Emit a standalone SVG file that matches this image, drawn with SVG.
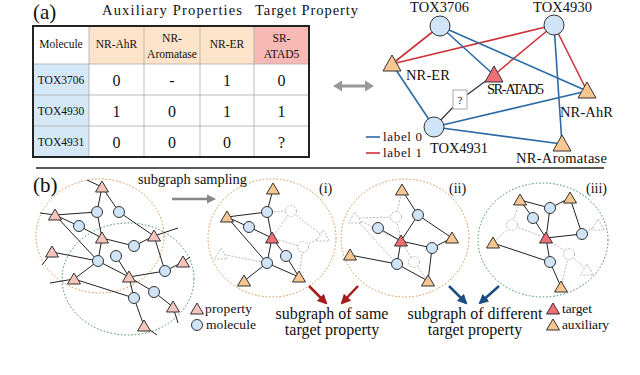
<svg xmlns="http://www.w3.org/2000/svg" xmlns:xlink="http://www.w3.org/1999/xlink" width="640" height="375" viewBox="0 0 640 375">
<defs>
<style>
text{font-family:"Liberation Serif","Times New Roman",serif;fill:#111}
.e{stroke:#222;stroke-width:1;fill:none}
.eg{stroke:#b8b8b8;stroke-width:1;stroke-dasharray:2,1.5;fill:none}
.mol{fill:#cfe4f7;stroke:#333;stroke-width:1}
.molg{fill:#fff;stroke:#b8b8b8;stroke-width:1;stroke-dasharray:2,1.5}
.aux{fill:#f8c690;stroke:#333;stroke-width:1}
.tgt{fill:#ef6f74;stroke:#333;stroke-width:1}
.prop{fill:#f4c4bd;stroke:#333;stroke-width:1}
.propg{fill:#fff;stroke:#b8b8b8;stroke-width:1;stroke-dasharray:2,1.5}
.b0{stroke:#2b6aa6;stroke-width:1.6}
.r1{stroke:#cc3338;stroke-width:1.6}
.tl{stroke:#aaa;stroke-width:0.8}
.hd{font-size:11.5px}
.val{font-size:16px}
.lab{font-size:14.5px}
.sm{font-size:13.5px}
</style>
<path id="triL" d="M0,-9 L9,7 L-9,7Z"/>
<path id="tri" d="M0,-6 L6.5,5 L-6.5,5Z"/>
<marker id="arR" viewBox="0 0 10 10" refX="8" refY="5" markerWidth="4" markerHeight="4" orient="auto"><path d="M0,0 L10,5 L0,10Z" fill="#a51c1c"/></marker>
<marker id="arB" viewBox="0 0 10 10" refX="8" refY="5" markerWidth="4" markerHeight="4" orient="auto"><path d="M0,0 L10,5 L0,10Z" fill="#1d4c80"/></marker>
</defs>
<rect width="640" height="375" fill="#fff"/>

<!-- Part (a) titles -->
<text x="33" y="19" font-size="21">(a)</text>
<text x="102" y="15" font-size="14.5" textLength="140">Auxiliary Properties</text>
<text x="255" y="15" font-size="14.5" textLength="103">Target Property</text>

<!-- Table -->
<g id="table">
<rect x="89" y="26" width="165" height="38" fill="#fde3c9"/>
<rect x="254" y="26" width="55" height="38" fill="#f7b9b3"/>
<rect x="33" y="64" width="56" height="93" fill="#d4e8f8"/>
<g class="tl">
<line x1="89" y1="26" x2="89" y2="157"/><line x1="144" y1="26" x2="144" y2="157"/>
<line x1="200" y1="26" x2="200" y2="157"/><line x1="254" y1="26" x2="254" y2="157"/>
<line x1="33" y1="64" x2="309" y2="64"/><line x1="33" y1="95" x2="309" y2="95"/>
<line x1="33" y1="126" x2="309" y2="126"/>
</g>
<rect x="33" y="26" width="276" height="131" fill="none" stroke="#222" stroke-width="2"/>
<g text-anchor="middle">
<text x="61" y="48" class="hd">Molecule</text>
<text x="116.5" y="48" class="hd">NR-AhR</text>
<text x="172" y="42" class="hd">NR-</text><text x="172" y="57.5" class="hd">Aromatase</text>
<text x="227" y="48" class="hd">NR-ER</text>
<text x="281.5" y="42" class="hd">SR-</text><text x="281.5" y="57.5" class="hd">ATAD5</text>
<text x="61" y="84" class="hd">TOX3706</text>
<text x="61" y="115" class="hd">TOX4930</text>
<text x="61" y="146" class="hd">TOX4931</text>
<text x="116.5" y="86" class="val">0</text><text x="172" y="86" class="val">-</text><text x="227" y="86" class="val">1</text><text x="281.5" y="86" class="val">0</text>
<text x="116.5" y="117" class="val">1</text><text x="172" y="117" class="val">0</text><text x="227" y="117" class="val">1</text><text x="281.5" y="117" class="val">1</text>
<text x="116.5" y="148" class="val">0</text><text x="172" y="148" class="val">0</text><text x="227" y="148" class="val">0</text><text x="281.5" y="148" class="val">?</text>
</g>
</g>

<!-- double arrow -->
<g id="double-arrow" fill="#999">
<line x1="340" y1="86" x2="366" y2="86" stroke="#999" stroke-width="3"/>
<polygon points="333,86 342,80.5 342,91.5"/>
<polygon points="374,86 365,80.5 365,91.5"/>
</g>

<!-- graph (a) connectors -->
<g id="connectors-a">
<line class="r1" x1="440" y1="26" x2="392" y2="64"/>
<line class="r1" x1="554" y1="25" x2="392" y2="64"/>
<line class="r1" x1="554" y1="25" x2="494" y2="75"/>
<line class="r1" x1="554" y1="25" x2="587" y2="91"/>
<line class="b0" x1="440" y1="26" x2="494" y2="75"/>
<line class="b0" x1="440" y1="26" x2="587" y2="91"/>
<line class="b0" x1="554" y1="25" x2="562" y2="144"/>
<line class="b0" x1="392" y1="64" x2="434" y2="127"/>
<line class="b0" x1="434" y1="127" x2="587" y2="91"/>
<line class="b0" x1="434" y1="127" x2="562" y2="144"/>
<polyline points="434,127 460,100 487,80" fill="none" stroke="#333" stroke-width="1.2"/>
</g>
<g id="q-box"><rect x="453" y="90" width="14" height="19" fill="#fff" stroke="#aaa" stroke-width="1"/><text x="460" y="104" text-anchor="middle" font-size="11" fill="#666">?</text></g>
<g id="TOX3706"><circle cx="440" cy="26" r="10" class="mol"/><text x="410" y="12" class="lab" textLength="59">TOX3706</text></g>
<g id="TOX4930"><circle cx="554" cy="25" r="10" class="mol"/><text x="533" y="12" class="lab" textLength="59">TOX4930</text></g>
<g id="TOX4931"><circle cx="434" cy="127" r="10" class="mol"/><text x="430" y="153" class="lab" textLength="58">TOX4931</text></g>
<g id="NR-ER"><use xlink:href="#triL" x="392" y="64" class="aux"/><text x="406" y="80" class="lab" textLength="44">NR-ER</text></g>
<g id="SR-ATAD5"><use xlink:href="#triL" x="494" y="75" class="tgt"/><text x="487" y="94" class="lab" textLength="57">SR-ATAD5</text></g>
<g id="NR-AhR"><use xlink:href="#triL" x="587" y="91" class="aux"/><text x="560" y="117" class="lab" textLength="53">NR-AhR</text></g>
<g id="NR-Aromatase"><use xlink:href="#triL" x="562" y="144" class="aux"/><text x="516" y="163" class="lab" textLength="91">NR-Aromatase</text></g>
<g id="legend-a">
<line class="b0" x1="366" y1="137" x2="380" y2="137" stroke-width="2"/>
<text x="383" y="141" font-size="13" textLength="39">label 0</text>
<line class="r1" x1="366" y1="153" x2="380" y2="153" stroke-width="2"/>
<text x="383" y="157" font-size="13" textLength="39">label 1</text>
</g>

<line x1="36" y1="168" x2="604" y2="168" stroke="#222" stroke-width="1.3"/>

<!-- Part (b) -->
<text x="33" y="192" font-size="21">(b)</text>
<text x="138" y="184" font-size="14.4" textLength="109">subgraph sampling</text>
<g id="sampling-arrow" fill="#888"><line x1="172" y1="199" x2="208" y2="199" stroke="#888" stroke-width="2.5"/><polygon points="216,199 207,194.5 207,203.5"/></g>

<!-- full graph -->
<ellipse cx="100" cy="236" rx="64" ry="57" fill="none" stroke="#d88a3a" stroke-width="1" stroke-dasharray="1.5,2"/>
<ellipse cx="128" cy="279" rx="66" ry="56" fill="none" stroke="#3a8a5a" stroke-width="1" stroke-dasharray="1.5,2"/>
<g id="connectors-full" class="e">
<line x1="87" y1="180" x2="102" y2="187"/>
<line x1="102" y1="187" x2="97" y2="212"/>
<line x1="102" y1="187" x2="119" y2="212"/>
<line x1="40" y1="213" x2="55" y2="215"/>
<line x1="55" y1="215" x2="97" y2="212"/>
<line x1="55" y1="215" x2="79" y2="226"/>
<line x1="79" y1="226" x2="102" y2="238"/>
<line x1="55" y1="215" x2="98" y2="261"/>
<line x1="97" y1="212" x2="102" y2="238"/>
<line x1="119" y1="212" x2="154" y2="236"/>
<line x1="154" y1="236" x2="178" y2="228"/>
<line x1="102" y1="238" x2="134" y2="246"/>
<line x1="134" y1="246" x2="154" y2="236"/>
<line x1="102" y1="238" x2="98" y2="261"/>
<line x1="116" y1="256" x2="129" y2="277"/>
<line x1="98" y1="261" x2="129" y2="277"/>
<line x1="52" y1="252" x2="98" y2="261"/>
<line x1="52" y1="252" x2="42" y2="265"/>
<line x1="74" y1="279" x2="98" y2="261"/>
<line x1="50" y1="283" x2="74" y2="279"/>
<line x1="74" y1="279" x2="134" y2="298"/>
<line x1="129" y1="277" x2="165" y2="271"/>
<line x1="165" y1="271" x2="183" y2="262"/>
<line x1="183" y1="262" x2="190" y2="257"/>
<line x1="154" y1="236" x2="165" y2="271"/>
<line x1="129" y1="277" x2="154" y2="292"/>
<line x1="154" y1="292" x2="173" y2="307"/>
<line x1="173" y1="307" x2="178" y2="323"/>
<line x1="129" y1="277" x2="134" y2="298"/>
<line x1="134" y1="298" x2="144" y2="326"/>
<line x1="144" y1="326" x2="157" y2="335"/>
</g>
<g id="full-nodes">
<g id="fT1"><use xlink:href="#tri" x="102" y="187" class="prop"/></g>
<g id="fT2"><use xlink:href="#tri" x="55" y="215" class="prop"/></g>
<g id="fT3"><use xlink:href="#tri" x="102" y="238" class="prop"/></g>
<g id="fT4"><use xlink:href="#tri" x="154" y="236" class="prop"/></g>
<g id="fT5"><use xlink:href="#tri" x="52" y="252" class="prop"/></g>
<g id="fT6"><use xlink:href="#tri" x="183" y="262" class="prop"/></g>
<g id="fT7"><use xlink:href="#tri" x="74" y="279" class="prop"/></g>
<g id="fT8"><use xlink:href="#tri" x="129" y="277" class="prop"/></g>
<g id="fT9"><use xlink:href="#tri" x="173" y="307" class="prop"/></g>
<g id="fT10"><use xlink:href="#tri" x="144" y="326" class="prop"/></g>
<g id="fC1"><circle cx="97" cy="212" r="5.5" class="mol"/></g>
<g id="fC2"><circle cx="119" cy="212" r="5.5" class="mol"/></g>
<g id="fC3"><circle cx="79" cy="226" r="5.5" class="mol"/></g>
<g id="fC4"><circle cx="134" cy="246" r="5.5" class="mol"/></g>
<g id="fC5"><circle cx="116" cy="256" r="5.5" class="mol"/></g>
<g id="fC6"><circle cx="98" cy="261" r="5.5" class="mol"/></g>
<g id="fC7"><circle cx="165" cy="271" r="5.5" class="mol"/></g>
<g id="fC8"><circle cx="154" cy="292" r="5.5" class="mol"/></g>
<g id="fC9"><circle cx="134" cy="298" r="5.5" class="mol"/></g>
</g>
<g id="legend-b1">
<use xlink:href="#tri" x="197" y="309" class="prop"/><text x="205" y="313" class="sm" textLength="47">property</text>
<circle cx="197" cy="325" r="5.5" class="mol"/><text x="206" y="329" class="sm" textLength="50">molecule</text>
</g>

<!-- subgraph (i) -->
<ellipse cx="272" cy="238" rx="64" ry="59" fill="none" stroke="#d88a3a" stroke-width="1" stroke-dasharray="1.5,2"/>
<text x="319" y="193" font-size="14">(i)</text>
<g id="connectors-i">
<g class="eg">
<line x1="267" y1="212" x2="291" y2="211"/>
<line x1="291" y1="211" x2="272" y2="238"/>
<line x1="291" y1="211" x2="323" y2="236"/>
<line x1="272" y1="238" x2="303" y2="247"/>
<line x1="303" y1="247" x2="323" y2="236"/>
<line x1="303" y1="247" x2="299" y2="277"/>
<line x1="221" y1="254" x2="267" y2="263"/>
</g>
<g class="e">
<line x1="273" y1="189" x2="267" y2="212"/>
<line x1="227" y1="217" x2="267" y2="212"/>
<line x1="227" y1="217" x2="249" y2="227"/>
<line x1="249" y1="227" x2="272" y2="238"/>
<line x1="227" y1="217" x2="267" y2="263"/>
<line x1="267" y1="212" x2="272" y2="238"/>
<line x1="272" y1="238" x2="267" y2="263"/>
<line x1="272" y1="238" x2="286" y2="256"/>
<line x1="286" y1="256" x2="299" y2="277"/>
<line x1="267" y1="263" x2="244" y2="281"/>
<line x1="267" y1="263" x2="299" y2="277"/>
</g>
</g>
<g id="nodes-i">
<g id="i-g1"><circle cx="291" cy="211" r="5.5" class="molg"/></g>
<g id="i-g2"><use xlink:href="#tri" x="323" y="236" class="propg"/></g>
<g id="i-g3"><circle cx="303" cy="247" r="5.5" class="molg"/></g>
<g id="i-g4"><use xlink:href="#tri" x="221" y="254" class="propg"/></g>
<g id="i-A1"><use xlink:href="#tri" x="273" y="189" class="aux"/></g>
<g id="i-A2"><use xlink:href="#tri" x="227" y="217" class="aux"/></g>
<g id="i-A3"><use xlink:href="#tri" x="244" y="281" class="aux"/></g>
<g id="i-A4"><use xlink:href="#tri" x="299" y="277" class="aux"/></g>
<g id="i-R"><use xlink:href="#tri" x="272" y="238" class="tgt"/></g>
<g id="i-B1"><circle cx="267" cy="212" r="5.5" class="mol"/></g>
<g id="i-B2"><circle cx="249" cy="227" r="5.5" class="mol"/></g>
<g id="i-B3"><circle cx="286" cy="256" r="5.5" class="mol"/></g>
<g id="i-B4"><circle cx="267" cy="263" r="5.5" class="mol"/></g>
</g>

<!-- subgraph (ii) -->
<ellipse cx="405" cy="238" rx="64" ry="59" fill="none" stroke="#d88a3a" stroke-width="1" stroke-dasharray="1.5,2"/>
<text x="449" y="193" font-size="14">(ii)</text>
<g id="connectors-ii">
<g class="eg">
<line x1="402" y1="190" x2="396" y2="217"/>
<line x1="396" y1="217" x2="355" y2="218"/>
<line x1="396" y1="217" x2="401" y2="241"/>
<line x1="355" y1="218" x2="401" y2="241"/>
<line x1="355" y1="218" x2="397" y2="264"/>
<line x1="401" y1="241" x2="414" y2="262"/>
<line x1="414" y1="262" x2="428" y2="281"/>
</g>
<g class="e">
<line x1="402" y1="190" x2="418" y2="215"/>
<line x1="418" y1="215" x2="401" y2="241"/>
<line x1="418" y1="215" x2="452" y2="238"/>
<line x1="378" y1="228" x2="401" y2="241"/>
<line x1="401" y1="241" x2="432" y2="248"/>
<line x1="432" y1="248" x2="452" y2="238"/>
<line x1="432" y1="248" x2="428" y2="281"/>
<line x1="401" y1="241" x2="397" y2="264"/>
<line x1="350" y1="255" x2="397" y2="264"/>
<line x1="397" y1="264" x2="428" y2="281"/>
</g>
</g>
<g id="nodes-ii">
<g id="ii-g1"><circle cx="396" cy="217" r="5.5" class="molg"/></g>
<g id="ii-g2"><use xlink:href="#tri" x="355" y="218" class="propg"/></g>
<g id="ii-g3"><circle cx="414" cy="262" r="5.5" class="molg"/></g>
<g id="ii-A1"><use xlink:href="#tri" x="402" y="190" class="aux"/></g>
<g id="ii-A2"><use xlink:href="#tri" x="452" y="238" class="aux"/></g>
<g id="ii-A3"><use xlink:href="#tri" x="350" y="255" class="aux"/></g>
<g id="ii-A4"><use xlink:href="#tri" x="428" y="281" class="aux"/></g>
<g id="ii-R"><use xlink:href="#tri" x="401" y="241" class="tgt"/></g>
<g id="ii-B1"><circle cx="418" cy="215" r="5.5" class="mol"/></g>
<g id="ii-B2"><circle cx="378" cy="228" r="5.5" class="mol"/></g>
<g id="ii-B3"><circle cx="432" cy="248" r="5.5" class="mol"/></g>
<g id="ii-B4"><circle cx="397" cy="264" r="5.5" class="mol"/></g>
</g>

<!-- subgraph (iii) -->
<ellipse cx="543" cy="240" rx="65" ry="57" fill="none" stroke="#3a8a5a" stroke-width="1" stroke-dasharray="1.5,2"/>
<text x="586" y="193" font-size="14">(iii)</text>
<g id="connectors-iii">
<g class="eg">
<line x1="520" y1="200" x2="512" y2="225"/>
<line x1="512" y1="225" x2="546" y2="238"/>
<line x1="512" y1="225" x2="493" y2="243"/>
<line x1="582" y1="234" x2="598" y2="225"/>
<line x1="546" y1="238" x2="569" y2="254"/>
<line x1="569" y1="254" x2="587" y2="270"/>
<line x1="569" y1="254" x2="561" y2="287"/>
</g>
<g class="e">
<line x1="520" y1="200" x2="550" y2="208"/>
<line x1="520" y1="200" x2="533" y2="218"/>
<line x1="550" y1="208" x2="570" y2="198"/>
<line x1="533" y1="218" x2="546" y2="238"/>
<line x1="550" y1="208" x2="546" y2="238"/>
<line x1="570" y1="198" x2="582" y2="234"/>
<line x1="582" y1="234" x2="546" y2="238"/>
<line x1="493" y1="243" x2="550" y2="262"/>
<line x1="546" y1="238" x2="550" y2="262"/>
<line x1="550" y1="262" x2="561" y2="287"/>
</g>
</g>
<g id="nodes-iii">
<g id="iii-g1"><circle cx="512" cy="225" r="5.5" class="molg"/></g>
<g id="iii-g2"><use xlink:href="#tri" x="598" y="225" class="propg"/></g>
<g id="iii-g3"><circle cx="569" cy="254" r="5.5" class="molg"/></g>
<g id="iii-g4"><use xlink:href="#tri" x="587" y="270" class="propg"/></g>
<g id="iii-A1"><use xlink:href="#tri" x="520" y="200" class="aux"/></g>
<g id="iii-A2"><use xlink:href="#tri" x="570" y="198" class="aux"/></g>
<g id="iii-A3"><use xlink:href="#tri" x="493" y="243" class="aux"/></g>
<g id="iii-A4"><use xlink:href="#tri" x="561" y="287" class="aux"/></g>
<g id="iii-R"><use xlink:href="#tri" x="546" y="238" class="tgt"/></g>
<g id="iii-B1"><circle cx="550" cy="208" r="5.5" class="mol"/></g>
<g id="iii-B2"><circle cx="533" cy="218" r="5.5" class="mol"/></g>
<g id="iii-B3"><circle cx="582" cy="234" r="5.5" class="mol"/></g>
<g id="iii-B4"><circle cx="550" cy="262" r="5.5" class="mol"/></g>
</g>

<!-- result arrows -->
<g id="connectors-result">
<line x1="309" y1="286" x2="326" y2="303" stroke="#a51c1c" stroke-width="2.5" marker-end="url(#arR)"/>
<line x1="358" y1="286" x2="342" y2="303" stroke="#a51c1c" stroke-width="2.5" marker-end="url(#arR)"/>
<line x1="449" y1="286" x2="466" y2="303" stroke="#1d4c80" stroke-width="2.5" marker-end="url(#arB)"/>
<line x1="499" y1="286" x2="480" y2="303" stroke="#1d4c80" stroke-width="2.5" marker-end="url(#arB)"/>
</g>
<g text-anchor="middle" font-size="16">
<text x="332" y="319">subgraph of same</text>
<text x="332" y="335">target property</text>
<text x="475" y="319">subgraph of different</text>
<text x="475" y="335">target property</text>
</g>
<g id="legend-b2">
<use xlink:href="#tri" x="553" y="309" class="tgt"/><text x="562" y="313" class="sm" textLength="30">target</text>
<use xlink:href="#tri" x="553" y="325" class="aux"/><text x="562" y="329" class="sm" textLength="47">auxiliary</text>
</g>
</svg>
